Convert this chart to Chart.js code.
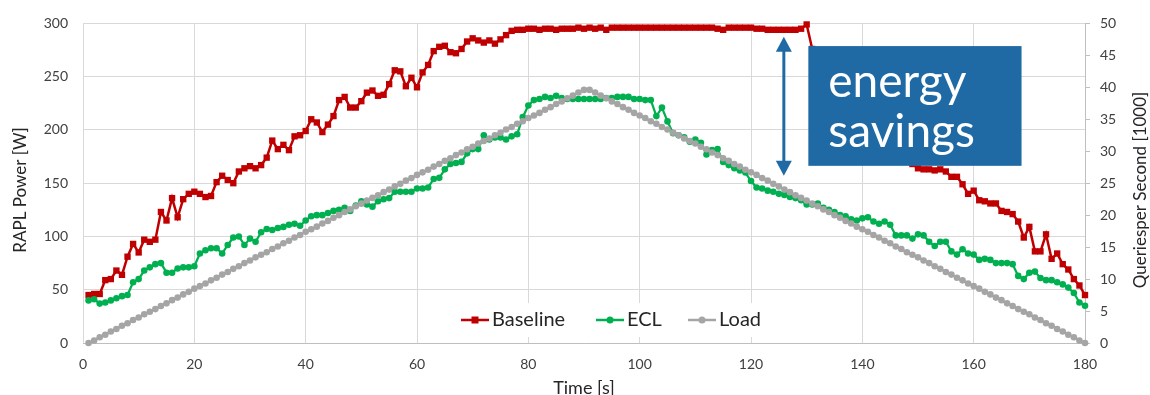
<!DOCTYPE html>
<html>
<head>
<meta charset="utf-8">
<script src="https://cdn.jsdelivr.net/npm/chart.js@4.4.0/dist/chart.umd.min.js"></script>
<style>
 html, body { margin: 0; padding: 0; background: #fff; }
 #wrap { width: 1150px; height: 395px; }
</style>
</head>
<body>
<div id="wrap"><canvas id="c" width="1150" height="395"></canvas></div>
<script>
// time axis [s]
const seconds = [
 1,2,3,4,5,6,7,8,9,10,11,12,13,14,15,16,17,18,19,20,
 21,22,23,24,25,26,27,28,29,30,31,32,33,34,35,36,37,38,39,40,
 41,42,43,44,45,46,47,48,49,50,51,52,53,54,55,56,57,58,59,60,
 61,62,63,64,65,66,67,68,69,70,71,72,73,74,75,76,77,78,79,80,
 81,82,83,84,85,86,87,88,89,90,91,92,93,94,95,96,97,98,99,100,
 101,102,103,104,105,106,107,108,109,110,111,112,113,114,115,116,117,118,119,120,
 121,122,123,124,125,126,127,128,129,130,131,132,133,134,135,136,137,138,139,140,
 141,142,143,144,145,146,147,148,149,150,151,152,153,154,155,156,157,158,159,160,
 161,162,163,164,165,166,167,168,169,170,171,172,173,174,175,176,177,178,179,180
];

// RAPL power [W]
const baseline = [
 45,46,46,59,60,68,64,81,93,85, 97,95,97,123,115,136,118,135,140,142,
 140,137,138,151,157,153,150,161,164,166, 164,167,174,190,182,186,181,194,195,199,
 210,207,198,205,213,228,231,221,221,227, 235,237,232,233,243,256,255,241,249,240,
 254,261,274,278,279,273,272,276,283,286, 284,282,284,281,285,289,293,294,294,295,
 295,294,295,295,294,295,295,295,296,295, 296,295,296,294,296,296,296,296,296,296,
 296,296,296,296,296,296,296,296,296,296, 296,296,296,295,294,296,296,296,296,296,
 295,295,294,294,294,294,294,294,295,299, 276,270,262,255,250,244,238,232,226,221,
 214,208,202,196,190,184,178,172,168,164, 163,163,162,163,161,156,156,149,140,143,
 134,133,131,131,124,123,121,114,99,109, 86,86,102,79,84,74,69,60,54,45
];
const ecl = [
 40,41,37,38,40,42,44,45,57,60, 68,71,74,75,66,66,70,71,71,72,
 84,87,89,89,84,92,99,100,92,98, 95,104,107,106,108,109,111,112,110,115,
 119,120,120,122,124,125,127,124,129,133, 130,128,133,135,136,142,142,142,142,145,
 145,146,154,155,163,168,169,170,178,182, 182,195,191,193,193,191,194,196,212,223,
 228,229,231,230,232,230,229,229,229,229, 229,229,229,230,230,231,231,231,229,229,
 228,228,213,221,208,197,195,193,189,191, 188,177,181,182,170,167,164,162,160,152,
 146,145,143,142,140,139,137,136,134,130, 130,131,127,125,123,120,119,116,115,117,
 118,114,112,114,111,101,101,101,98,102, 101,95,91,95,95,86,83,88,84,83,
 78,79,78,75,75,75,74,63,60,66, 67,61,59,59,57,55,52,47,38,35
];
// queries per second [1000]
const load = [
 0,0.4,0.9,1.3,1.8,2.2,2.7,3.1,3.6,4.0, 4.5,4.9,5.3,5.8,6.2,6.7,7.1,7.6,8.0,8.5,
 8.9,9.3,9.8,10.2,10.7,11.1,11.6,12.0,12.5,12.9, 13.4,13.8,14.2,14.7,15.1,15.6,16.0,16.5,16.9,17.4,
 17.8,18.2,18.7,19.1,19.6,20.0,20.5,20.9,21.4,21.8, 22.3,22.7,23.1,23.6,24.0,24.5,24.9,25.4,25.8,26.3,
 26.7,27.1,27.6,28.0,28.5,28.9,29.4,29.8,30.3,30.7, 31.2,31.6,32.0,32.5,32.9,33.4,33.8,34.3,34.7,35.2,
 35.6,36.0,36.5,36.9,37.4,37.8,38.3,38.7,39.2,39.6,
 39.6,39.2,38.7,38.3,37.8,37.4,36.9,36.5,36.0,35.6, 35.2,34.7,34.3,33.8,33.4,32.9,32.5,32.0,31.6,31.2,
 30.7,30.3,29.8,29.4,28.9,28.5,28.0,27.6,27.1,26.7, 26.3,25.8,25.4,24.9,24.5,24.0,23.6,23.1,22.7,22.3,
 21.8,21.4,20.9,20.5,20.0,19.6,19.1,18.7,18.2,17.8, 17.4,16.9,16.5,16.0,15.6,15.1,14.7,14.2,13.8,13.4,
 12.9,12.5,12.0,11.6,11.1,10.7,10.2,9.8,9.3,8.9, 8.5,8.0,7.6,7.1,6.7,6.2,5.8,5.3,4.9,4.5,
 4.0,3.6,3.1,2.7,2.2,1.8,1.3,0.9,0.4,0
];

const seriesNames = ['Baseline', 'ECL', 'Load'];
const timeRange = [0, 180];
const powerRange = [0, 300];
const queryRange = [0, 50];
const xTitle = 'Time [s]';
const leftTitle = 'RAPL Power [W]';
const rightTitle = 'Queriesper Second [1000]';
const noteLines = ['energy', 'savings'];

const FONT = 'Lato, "Open Sans", sans-serif';
const colors = ['#c00000', '#00b050', '#a5a5a5'];
const noteBlue = '#1f6aa5';

function pts(values) {
  return seconds.map((t, i) => ({ x: t, y: values[i] }));
}

// legend, right-hand title and the "energy savings" note
const overlay = {
  id: 'overlay',
  afterDraw(chart) {
    const ctx = chart.ctx;
    const xs = chart.scales.x, ys = chart.scales.y;
    const area = chart.chartArea;
    ctx.save();

    // axis titles (both read bottom-to-top)
    ctx.fillStyle = '#262626';
    ctx.font = '17px ' + FONT;
    ctx.textAlign = 'center';
    ctx.textBaseline = 'middle';
    [[21, leftTitle], [1141, rightTitle]].forEach(([x, txt]) => {
      ctx.save();
      ctx.translate(x, 190);
      ctx.rotate(-Math.PI / 2);
      ctx.fillText(txt, 0, 0);
      ctx.restore();
    });

    // legend inside the plot
    const ly = area.bottom - 23;
    ctx.fillStyle = '#fff';
    ctx.fillRect(area.left + 370, ly - 17, 316, 34);
    const itemX = [area.left + 378, area.left + 513, area.left + 605];
    ctx.font = '20px ' + FONT;
    ctx.textAlign = 'left';
    chart.data.datasets.forEach((ds, i) => {
      const x0 = itemX[i];
      ctx.strokeStyle = colors[i];
      ctx.lineWidth = 2.5;
      ctx.beginPath();
      ctx.moveTo(x0, ly);
      ctx.lineTo(x0 + 28, ly);
      ctx.stroke();
      ctx.fillStyle = colors[i];
      if (i === 0) {
        ctx.fillRect(x0 + 10.5, ly - 3.5, 7, 7);
      } else {
        ctx.beginPath();
        ctx.arc(x0 + 14, ly, 3.5, 0, Math.PI * 2);
        ctx.fill();
      }
      ctx.fillStyle = '#262626';
      ctx.fillText(ds.label, x0 + 31, ly);
    });

    // double arrow between baseline and ECL
    const ax = xs.getPixelForValue(125.9);
    const aTop = ys.getPixelForValue(287.5);
    const aBot = ys.getPixelForValue(157);
    ctx.strokeStyle = noteBlue;
    ctx.fillStyle = noteBlue;
    ctx.lineWidth = 3;
    ctx.beginPath();
    ctx.moveTo(ax, aTop + 12);
    ctx.lineTo(ax, aBot - 12);
    ctx.stroke();
    ctx.beginPath();
    ctx.moveTo(ax, aTop);
    ctx.lineTo(ax - 8, aTop + 15);
    ctx.lineTo(ax + 8, aTop + 15);
    ctx.closePath();
    ctx.fill();
    ctx.beginPath();
    ctx.moveTo(ax, aBot);
    ctx.lineTo(ax - 8, aBot - 15);
    ctx.lineTo(ax + 8, aBot - 15);
    ctx.closePath();
    ctx.fill();

    // note box
    const bx0 = xs.getPixelForValue(130.3), bx1 = xs.getPixelForValue(168.6);
    const by0 = ys.getPixelForValue(278.7), by1 = ys.getPixelForValue(166.3);
    ctx.fillRect(bx0, by0, bx1 - bx0, by1 - by0);
    ctx.fillStyle = '#fff';
    ctx.font = '46px ' + FONT;
    ctx.textAlign = 'left';
    ctx.textBaseline = 'alphabetic';
    ctx.fillText(noteLines[0], bx0 + 20, by0 + 51);
    ctx.fillText(noteLines[1], bx0 + 20, by0 + 101);

    ctx.restore();
  }
};

const tickFont = { family: FONT, size: 14 };

new Chart(document.getElementById('c').getContext('2d'), {
  type: 'line',
  data: {
    datasets: [
      {
        label: seriesNames[0],
        data: pts(baseline),
        yAxisID: 'y',
        borderColor: colors[0],
        backgroundColor: colors[0],
        borderWidth: 2.5,
        pointStyle: 'rect',
        pointRadius: 4.5,
        pointBorderWidth: 0,
        order: 2,
        clip: false,
      },
      {
        label: seriesNames[1],
        data: pts(ecl),
        yAxisID: 'y',
        borderColor: colors[1],
        backgroundColor: colors[1],
        borderWidth: 2.25,
        pointStyle: 'circle',
        pointRadius: 3.3,
        pointBorderWidth: 0,
        order: 1,
        clip: false,
      },
      {
        label: seriesNames[2],
        data: pts(load),
        yAxisID: 'y2',
        borderColor: colors[2],
        backgroundColor: colors[2],
        borderWidth: 2.25,
        pointStyle: 'circle',
        pointRadius: 3.3,
        pointBorderWidth: 0,
        order: 0,
        clip: false,
      },
    ]
  },
  options: {
    responsive: false,
    devicePixelRatio: 1,
    animation: false,
    layout: { padding: { top: 16, left: 0, right: 0, bottom: 0 } },
    plugins: { legend: { display: false }, tooltip: { enabled: false } },
    scales: {
      x: {
        type: 'linear',
        min: timeRange[0],
        max: timeRange[1],
        ticks: { stepSize: 20, color: '#404040', font: tickFont, padding: 13 },
        grid: { color: '#d9d9d9', drawTicks: false },
        border: { color: '#bfbfbf' },
        title: { display: true, text: xTitle, color: '#262626', font: { family: FONT, size: 18, lineHeight: 0.8 }, padding: 0 },
        afterFit: (s) => { s.height = 52; }
      },
      y: {
        position: 'left',
        min: powerRange[0],
        max: powerRange[1],
        ticks: { stepSize: 50, color: '#404040', font: tickFont, padding: 15 },
        grid: { color: '#d9d9d9', drawTicks: false },
        border: { display: false },
        afterFit: (s) => { s.width = 83; }
      },
      y2: {
        position: 'right',
        min: queryRange[0],
        max: queryRange[1],
        ticks: { stepSize: 5, color: '#404040', font: tickFont, padding: 10 },
        grid: { drawOnChartArea: false, color: '#bfbfbf', tickLength: 5 },
        border: { color: '#bfbfbf' },
        afterFit: (s) => { s.width = 65; }
      }
    }
  },
  plugins: [overlay]
});
</script>
</body>
</html>
